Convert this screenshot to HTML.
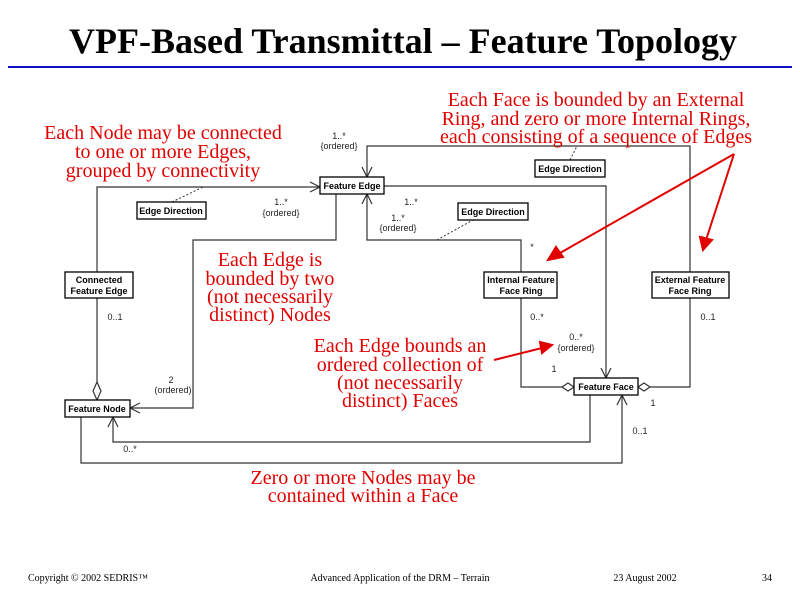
<!DOCTYPE html>
<html><head><meta charset="utf-8"><style>
html,body{margin:0;padding:0;background:#fff;width:800px;height:600px;overflow:hidden}
svg{display:block}
.b{font-family:"Liberation Sans",sans-serif;font-size:9px;font-weight:bold;fill:#000}
.s{font-family:"Liberation Sans",sans-serif;font-size:9px;fill:#222}
.r{font-family:"Liberation Serif",serif;font-size:20px;fill:#e00000}
.f{font-family:"Liberation Serif",serif;font-size:10px;fill:#000}
</style></head><body>
<svg width="800" height="600" xmlns="http://www.w3.org/2000/svg">
<text x="403" y="53" text-anchor="middle" font-family="Liberation Serif,serif" font-weight="bold" font-size="36">VPF-Based Transmittal – Feature Topology</text>
<line x1="8" y1="67" x2="792" y2="67" stroke="#1010c0" stroke-width="2"/>

<g fill="none" stroke="#333" stroke-width="1.2">
<polyline points="97,272 97,187 320,187"/>
<polyline points="310,182 320,187 310,192"/>
<line x1="97" y1="298" x2="97" y2="382"/>
<polygon points="97,382 101,391 97,400 93,391" fill="#fff"/>
<polyline points="336,194 336,240 193,240 193,408 130,408"/>
<polyline points="140,403 130,408 140,413"/>
<polyline points="367,177 367,146 690,146 690,272"/>
<polyline points="362,167 367,177 372,167"/>
<polyline points="367,194 367,240 521,240 521,272"/>
<polyline points="362,204 367,194 372,204"/>
<polyline points="384,186 606,186 606,378"/>
<polyline points="601,368 606,378 611,368"/>
<polyline points="521,298 521,387 562,387"/>
<polygon points="562,387 568,383 574,387 568,391" fill="#fff"/>
<polyline points="690,298 690,387 650,387"/>
<polygon points="638,387 644,383 650,387 644,391" fill="#fff"/>
<polyline points="590,395 590,442 113,442 113,417"/>
<polyline points="108,427 113,417 118,427"/>
<polyline points="81,417 81,463 622,463 622,395"/>
<polyline points="617,405 622,395 627,405"/>
</g>
<g stroke="#333" stroke-width="1" stroke-dasharray="2,2" fill="none">
<line x1="172" y1="202" x2="203" y2="187"/>
<line x1="570" y1="160" x2="577" y2="146"/>
<line x1="437" y1="240" x2="473" y2="220"/>
</g>

<g fill="#fff" stroke="#000" stroke-width="1.3">
<rect x="320" y="177" width="64" height="17"/>
<rect x="137" y="202" width="69" height="17"/>
<rect x="535" y="160" width="70" height="17"/>
<rect x="458" y="203" width="70" height="17"/>
<rect x="65" y="272" width="68" height="26"/>
<rect x="484" y="272" width="73" height="26"/>
<rect x="652" y="272" width="77" height="26"/>
<rect x="574" y="378" width="64" height="17"/>
<rect x="65" y="400" width="65" height="17"/>
</g>
<text class="b" x="352" y="189" text-anchor="middle">Feature Edge</text>
<text class="b" x="171" y="214" text-anchor="middle">Edge Direction</text>
<text class="b" x="570" y="172" text-anchor="middle">Edge Direction</text>
<text class="b" x="493" y="215" text-anchor="middle">Edge Direction</text>
<text class="b" x="99" y="283" text-anchor="middle">Connected</text>
<text class="b" x="99" y="294" text-anchor="middle">Feature Edge</text>
<text class="b" x="521" y="283" text-anchor="middle">Internal Feature</text>
<text class="b" x="521" y="294" text-anchor="middle">Face Ring</text>
<text class="b" x="690" y="283" text-anchor="middle">External Feature</text>
<text class="b" x="690" y="294" text-anchor="middle">Face Ring</text>
<text class="b" x="606" y="390" text-anchor="middle">Feature Face</text>
<text class="b" x="97" y="412" text-anchor="middle">Feature Node</text>

<g class="s" text-anchor="middle">
<text x="339" y="139">1..*</text><text x="339" y="149">{ordered}</text>
<text x="281" y="205">1..*</text><text x="281" y="216">{ordered}</text>
<text x="411" y="205">1..*</text>
<text x="398" y="221">1..*</text><text x="398" y="231">{ordered}</text>
<text x="532" y="250">*</text>
<text x="702" y="242">*</text>
<text x="115" y="320">0..1</text>
<text x="537" y="320">0..*</text>
<text x="708" y="320">0..1</text>
<text x="576" y="340">0..*</text><text x="576" y="351">{ordered}</text>
<text x="554" y="372">1</text>
<text x="653" y="406">1</text>
<text x="640" y="434">0..1</text>
<text x="171" y="383">2</text><text x="173" y="393">(ordered)</text>
<text x="130" y="452">0..*</text>
</g>

<g stroke="#e00000" stroke-width="2" fill="#e00000">
<line x1="734" y1="154" x2="560" y2="253"/>
<polygon points="548,260 556,247 563,257"/>
<line x1="734" y1="154" x2="706" y2="240"/>
<polygon points="703,250 700,237 712,240"/>
<line x1="494" y1="360" x2="542" y2="348"/>
<polygon points="552,345 540,342 542,353"/>
</g>

<g class="r" text-anchor="middle">
<text x="163" y="139">Each Node may be connected</text>
<text x="163" y="158">to one or more Edges,</text>
<text x="163" y="177">grouped by connectivity</text>
<text x="596" y="106">Each Face is bounded by an External</text>
<text x="596" y="125">Ring, and zero or more Internal Rings,</text>
<text x="596" y="143">each consisting of a sequence of Edges</text>
<text x="270" y="266">Each Edge is</text>
<text x="270" y="285">bounded by two</text>
<text x="270" y="303">(not necessarily</text>
<text x="270" y="321">distinct) Nodes</text>
<text x="400" y="352">Each Edge bounds an</text>
<text x="400" y="371">ordered collection of</text>
<text x="400" y="389">(not necessarily</text>
<text x="400" y="407">distinct) Faces</text>
<text x="363" y="484">Zero or more Nodes may be</text>
<text x="363" y="502">contained within a Face</text>
</g>

<text class="f" x="28" y="581">Copyright © 2002 SEDRIS™</text>
<text class="f" x="400" y="581" text-anchor="middle">Advanced Application of the DRM – Terrain</text>
<text class="f" x="645" y="581" text-anchor="middle">23 August 2002</text>
<text class="f" x="767" y="581" text-anchor="middle">34</text>
</svg>
</body></html>
